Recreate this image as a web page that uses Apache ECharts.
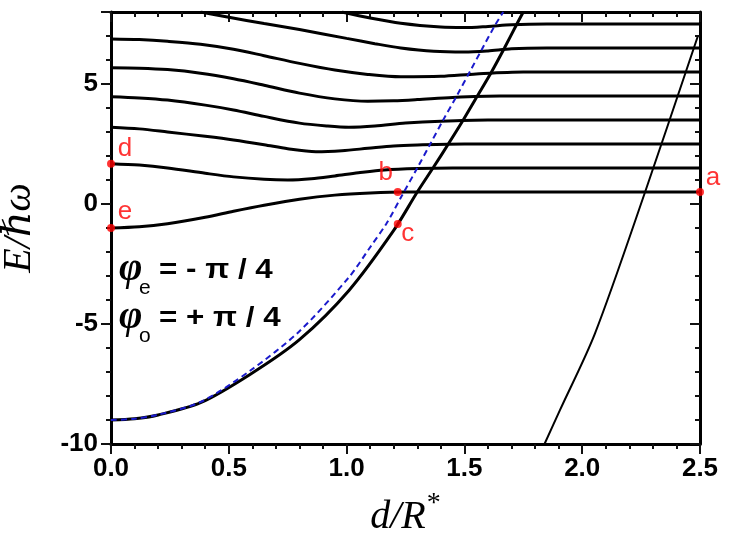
<!DOCTYPE html>
<html>
<head>
<meta charset="utf-8">
<script src="https://cdn.jsdelivr.net/npm/echarts@6/dist/echarts.min.js"></script>
<style>
html, body { margin: 0; padding: 0; background: #fff; }
#chart { width: 742px; height: 546px; }
</style>
</head>
<body>
<div id="chart"></div>
<script>
// E/hbar-omega against d/R*
var level1 = [[0,-1.0],[0.12,-0.95],[0.24,-0.82],[0.4,-0.55],[0.52,-0.3],[0.65,-0.05],[0.8,0.2],[0.95,0.37],[1.1,0.46],[1.25,0.5],[1.5,0.5],[2.5,0.5]];
var level2 = [[0,1.68],[0.12,1.62],[0.24,1.5],[0.4,1.28],[0.52,1.13],[0.65,1.03],[0.75,1.0],[0.85,1.05],[0.95,1.17],[1.05,1.3],[1.16,1.42],[1.3,1.48],[1.45,1.5],[2.5,1.5]];
var level3 = [[0,3.2],[0.12,3.13],[0.24,3.0],[0.4,2.82],[0.52,2.67],[0.65,2.47],[0.75,2.3],[0.87,2.18],[0.98,2.22],[1.09,2.32],[1.2,2.42],[1.3,2.46],[1.5,2.5],[2.5,2.5]];
var level4 = [[0,4.47],[0.12,4.42],[0.24,4.33],[0.4,4.12],[0.52,3.92],[0.65,3.65],[0.8,3.37],[0.92,3.25],[1.01,3.2],[1.12,3.25],[1.25,3.37],[1.4,3.45],[1.6,3.5],[2.5,3.5]];
var level5 = [[0,5.68],[0.12,5.66],[0.24,5.6],[0.38,5.45],[0.52,5.22],[0.65,4.95],[0.8,4.62],[0.95,4.38],[1.09,4.28],[1.2,4.3],[1.3,4.35],[1.45,4.44],[1.65,4.5],[2.5,4.5]];
var level6 = [[0,6.88],[0.12,6.85],[0.24,6.78],[0.38,6.66],[0.52,6.45],[0.65,6.18],[0.8,5.86],[0.95,5.58],[1.09,5.4],[1.23,5.3],[1.4,5.32],[1.55,5.42],[1.75,5.5],[2.5,5.5]];
var level7 = [[0.38,8.0],[0.5,7.78],[0.65,7.52],[0.8,7.27],[1.0,6.9],[1.12,6.68],[1.23,6.5],[1.37,6.36],[1.5,6.33],[1.6,6.38],[1.7,6.47],[1.85,6.5],[2.5,6.5]];
var level8 = [[0.98,8.0],[1.1,7.75],[1.23,7.53],[1.4,7.37],[1.5,7.35],[1.6,7.4],[1.7,7.47],[1.85,7.5],[2.5,7.5]];

var groundSolid = [[0,-9],[0.1,-8.95],[0.2,-8.79],[0.38,-8.28],[0.59,-7.1],[0.8,-5.65],[1.01,-3.6],[1.2,-1.1],[1.3,0.5],[1.37,1.55],[1.435,2.55],[1.495,3.5],[1.555,4.5],[1.615,5.5],[1.67,6.5],[1.72,7.45],[1.75,8.0]];
var groundDashed = [[0,-9],[0.1,-8.95],[0.2,-8.78],[0.38,-8.25],[0.59,-6.95],[0.8,-5.3],[1.01,-3.05],[1.1,-1.8],[1.17,-0.8],[1.235,0.35],[1.3,1.5],[1.355,2.5],[1.41,3.5],[1.47,4.55],[1.525,5.55],[1.58,6.55],[1.63,7.45],[1.665,8.0]];
var steepBranch = [[1.84,-10],[1.906,-8.58],[2.054,-5.4],[2.267,0.5],[2.49,6.97]];

var pointNames = ['a', 'b', 'c', 'd', 'e'];
var pointX = [2.5, 1.217, 1.217, 0, 0];
var pointY = [0.5, 0.5, -0.83, 1.68, -1.0];

var yTickValues = [-10, -5, 0, 5];

// label offsets of the red letters (pixels)
var letterOffset = { a: [13, -14], b: [-12, -19], c: [10, 10], d: [14, -15], e: [14, -16] };

var chart = echarts.init(document.getElementById('chart'));

function tickFont() {
	return { color: '#000', fontSize: 26, fontWeight: 'bold', fontFamily: '"Liberation Sans", Arial, sans-serif' };
}

var series = [];
[level1, level2, level3, level4, level5, level6, level7, level8].forEach(function (d) {
	series.push({
		type: 'line', data: d, smooth: 0.3, symbol: 'none',
		lineStyle: { color: '#000', width: 3 }
	});
});
series.push({
	type: 'line', data: groundSolid, smooth: 0.3, symbol: 'none',
	lineStyle: { color: '#000', width: 3 }
});
series.push({
	type: 'line', data: steepBranch, smooth: 0.3, symbol: 'none',
	lineStyle: { color: '#000', width: 2 }
});
series.push({
	type: 'line', data: groundDashed, smooth: 0.3, symbol: 'none',
	lineStyle: { color: '#1a1acc', width: 2, type: [6, 4] }
});

var pointData = [];
for (var i = 0; i < pointNames.length; i++) {
	pointData.push({
		name: pointNames[i],
		value: [pointX[i], pointY[i]],
		label: { offset: letterOffset[pointNames[i]] }
	});
}
series.push({
	type: 'scatter', data: pointData, symbolSize: 8, clip: false, z: 5,
	itemStyle: { color: '#f00' },
	label: {
		show: true, position: 'inside', formatter: '{b}',
		color: '#f00', fontSize: 26, fontFamily: '"Liberation Sans", Arial, sans-serif'
	}
});

// one side of the box frame; mirrored sides get inward ticks and no labels
function frameAxis(position, min, max, step, mirrored) {
	return {
		type: 'value', position: position, min: min, max: max, interval: step,
		axisLine: { show: true, onZero: false, lineStyle: { color: '#000', width: 3 } },
		axisTick: { show: true, inside: mirrored, length: 10, lineStyle: { color: '#111', width: 2 } },
		minorTick: { show: true, splitNumber: 5, length: 5, lineStyle: { color: '#111', width: 2 } },
		axisLabel: { show: false },
		splitLine: { show: false }
	};
}

var xBottom = frameAxis('bottom', 0, 2.5, 0.5, false);
xBottom.axisLabel = Object.assign({ show: true, margin: 12, formatter: function (v) { return v.toFixed(1); } }, tickFont());
xBottom.name = '{a|d/R}{b|*}';
xBottom.nameLocation = 'middle';
xBottom.nameGap = 46;
xBottom.nameTextStyle = {
	rich: {
		a: { fontSize: 40, fontStyle: 'italic', fontFamily: '"Liberation Serif", "Times New Roman", serif', color: '#000' },
		b: { fontSize: 28, fontFamily: '"Liberation Serif", serif', color: '#000', padding: [0, 0, 26, 1] }
	}
};
var xTop = frameAxis('top', 0, 2.5, 0.5, true);

var yLeft = frameAxis('left', -10, 8, 5, false);
yLeft.axisLabel = Object.assign({
	show: true, margin: 13,
	formatter: function (v) { return yTickValues.indexOf(v) >= 0 ? String(v) : ''; }
}, tickFont());
yLeft.name = 'E/ℏω';
yLeft.nameLocation = 'middle';
yLeft.nameRotate = 90;
yLeft.nameGap = 72;
yLeft.nameTextStyle = { fontSize: 40, fontStyle: 'italic', fontFamily: '"Liberation Serif", "DejaVu Serif", serif', color: '#000' };
var yRight = frameAxis('right', -10, 8, 5, true);

var option = {
	animation: false,
	backgroundColor: '#fff',
	grid: { left: 111, right: 42, top: 12, bottom: 102, outerBoundsMode: 'none' },
	xAxis: [xBottom, xTop],
	yAxis: [yLeft, yRight],
	graphic: [
		{ type: 'text', x: 119, y: 270, style: { text: 'φ', font: 'italic bold 40px "Liberation Serif", serif', fill: '#000', verticalAlign: 'middle', textVerticalAlign: 'middle' } },
		{ type: 'text', x: 139, y: 288, style: { text: 'e', font: '21px "Liberation Sans", Arial, sans-serif', fill: '#000', verticalAlign: 'middle', textVerticalAlign: 'middle' } },
		{ type: 'text', x: 159, y: 270, scaleX: 1.12, style: { text: '= - π / 4', font: 'bold 28px "Liberation Sans", Arial, sans-serif', fill: '#000', verticalAlign: 'middle', textVerticalAlign: 'middle' } },
		{ type: 'text', x: 119, y: 318, style: { text: 'φ', font: 'italic bold 40px "Liberation Serif", serif', fill: '#000', verticalAlign: 'middle', textVerticalAlign: 'middle' } },
		{ type: 'text', x: 139, y: 336, style: { text: 'o', font: '21px "Liberation Sans", Arial, sans-serif', fill: '#000', verticalAlign: 'middle', textVerticalAlign: 'middle' } },
		{ type: 'text', x: 159, y: 318, scaleX: 1.12, style: { text: '= + π / 4', font: 'bold 28px "Liberation Sans", Arial, sans-serif', fill: '#000', verticalAlign: 'middle', textVerticalAlign: 'middle' } }
	],
	series: series
};

chart.setOption(option);
</script>
</body>
</html>
